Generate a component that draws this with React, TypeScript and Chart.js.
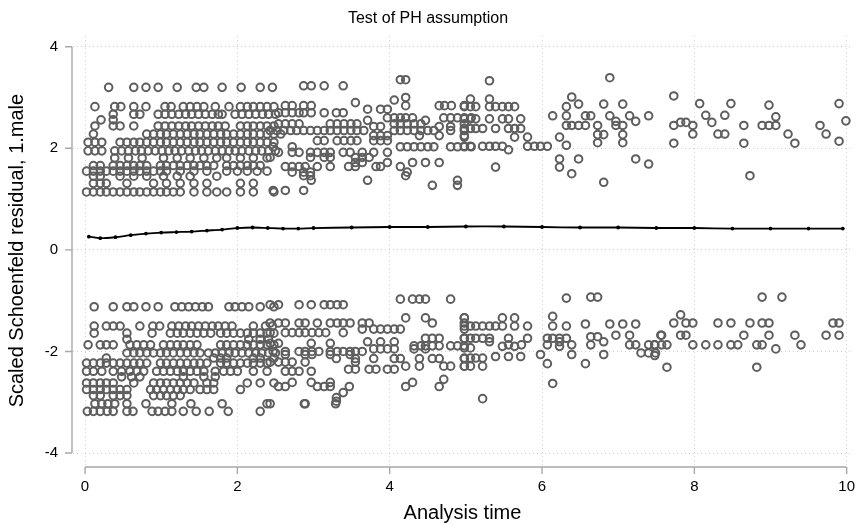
import React, { useEffect, useRef } from "react";
import { Chart, registerables } from "chart.js";

Chart.register(...registerables);

type Row = [number, number[]];

const FONT = "'Liberation Sans', Arial, sans-serif";

const xTicks = [0, 2, 4, 6, 8, 10];
const yTicks = [-4, -2, 0, 2, 4];

// smoothed residual line (running mean)
const smoothX = [0.05, 0.2, 0.4, 0.6, 0.8, 1.0, 1.2, 1.4, 1.6, 1.8, 2.0, 2.2, 2.4, 2.6, 2.8, 3.0, 3.5, 4.0, 4.5, 5.0, 5.5, 6.0, 6.5, 7.0, 7.5, 8.0, 8.5, 9.0, 9.5, 9.95];
const smoothY = [0.26, 0.23, 0.25, 0.29, 0.32, 0.34, 0.35, 0.36, 0.38, 0.4, 0.43, 0.44, 0.43, 0.42, 0.42, 0.43, 0.44, 0.45, 0.45, 0.46, 0.46, 0.45, 0.44, 0.44, 0.43, 0.43, 0.42, 0.42, 0.42, 0.42];

// residual rows: [residual, analysis times]
const upperLeft: Row[] = [
  [3.2, [0.31, 0.64, 0.8, 0.96, 1.21, 1.46, 1.56, 1.8, 2.05, 2.3, 2.46]],
  [2.82, [0.13, 0.39, 0.47, 0.64, 0.8, 1.05, 1.13, 1.29, 1.38, 1.47, 1.56, 1.71, 1.89, 2.04, 2.13, 2.21, 2.3, 2.39, 2.48]],
  [2.67, [0.37, 0.64, 0.72, 0.96, 1.05, 1.14, 1.23, 1.32, 1.4, 1.49, 1.58, 1.67, 1.75, 1.8, 1.97, 2.06, 2.15, 2.24, 2.33, 2.41, 2.5]],
  [2.56, [0.21, 0.37]],
  [2.44, [0.13, 0.37, 0.46, 0.64, 0.96, 1.05, 1.14, 1.23, 1.32, 1.4, 1.49, 1.58, 1.67, 1.75, 1.84, 2.04, 2.13, 2.21, 2.3, 2.39, 2.48]],
  [2.28, [0.11, 0.81, 0.9, 0.99, 1.07, 1.16, 1.25, 1.34, 1.43, 1.51, 1.6, 1.69, 1.78, 1.86, 1.95, 2.04, 2.13, 2.21, 2.3, 2.39, 2.48, 2.57]],
  [2.12, [0.04, 0.13, 0.22, 0.46, 0.55, 0.64, 0.72, 0.81, 0.9, 0.99, 1.07, 1.16, 1.25, 1.34, 1.43, 1.51, 1.6, 1.69, 1.78, 1.86, 1.95, 2.04, 2.13, 2.21, 2.3, 2.39, 2.48]],
  [1.95, [0.04, 0.13, 0.22, 0.39, 0.48, 0.57, 0.66, 0.74, 0.83, 0.92, 1.01, 1.1, 1.18, 1.27, 1.36, 1.45, 1.53, 1.62, 1.71, 1.8, 1.89, 1.97, 2.06, 2.15, 2.24, 2.32, 2.41, 2.5]],
  [1.81, [0.39, 0.57, 0.75, 1.03, 1.21, 1.38, 1.56, 1.73, 1.86, 2.04, 2.21, 2.39]],
  [1.66, [0.11, 0.2, 0.37, 0.46, 0.55, 0.64, 0.72, 0.81, 0.99, 1.07, 1.16, 1.25, 1.34, 1.43, 1.51, 1.6, 1.69, 1.86, 1.95, 2.04, 2.13, 2.21, 2.3]],
  [1.55, [0.02, 0.11, 0.2, 0.28, 0.37, 0.46, 0.55, 0.64, 0.72, 0.81, 0.9, 0.99, 1.07, 1.25, 1.43, 1.6, 1.86, 2.0, 2.13, 2.26, 2.39]],
  [1.45, [0.11, 0.2, 0.46, 0.64, 0.81, 1.03, 1.21, 1.38, 1.73]],
  [1.31, [0.11, 0.2, 0.28, 0.55, 0.9, 1.07, 1.25, 1.43, 1.6, 2.04, 2.21]],
  [1.14, [0.02, 0.11, 0.2, 0.28, 0.37, 0.46, 0.55, 0.64, 0.72, 0.81, 0.9, 0.99, 1.07, 1.16, 1.25, 1.43, 1.6, 1.73, 1.86, 2.04, 2.21, 2.48]],
];

const upperMid: Row[] = [
  [3.35, [4.14, 4.21]],
  [3.23, [2.87, 2.97, 3.14, 3.39]],
  [3.0, [4.21]],
  [2.95, [4.06]],
  [2.9, [3.55]],
  [2.84, [2.63, 2.72, 2.87, 2.97, 4.21, 4.65, 4.72, 4.81, 4.98]],
  [2.77, [3.71, 3.88, 3.97]],
  [2.7, [2.54, 2.63, 2.72, 2.81, 2.87, 2.97, 3.14, 3.3, 3.39]],
  [2.6, [3.97, 4.06, 4.14, 4.21, 4.3, 4.71, 4.8, 4.89, 4.98, 5.07]],
  [2.55, [3.71, 4.47]],
  [2.48, [2.54, 2.63, 2.72, 2.81, 3.22, 3.31, 3.4, 3.49, 3.57, 4.06, 4.14, 4.23, 4.32, 4.41, 4.98]],
  [2.43, [3.79, 3.88, 4.65, 4.8]],
  [2.35, [2.43, 2.52, 2.61, 2.7, 2.78, 2.87, 2.96, 3.05, 3.14, 3.22, 3.31, 3.4, 3.49, 3.57, 3.66, 4.06, 4.14, 4.23, 4.32, 4.41, 4.5, 4.58, 4.8, 4.98]],
  [2.25, [3.79, 3.88, 3.97, 4.39, 4.65, 4.98]],
  [2.15, [3.05, 3.14, 3.31, 3.4, 3.49, 3.57, 3.79, 3.88, 3.97]],
  [2.03, [2.47, 2.72, 4.14, 4.23, 4.32, 4.41, 4.5, 4.58, 4.8, 4.89, 4.98, 5.07]],
  [1.92, [2.54, 2.72, 2.81, 2.96, 3.05, 3.14, 3.22, 3.39, 3.48, 3.64, 3.79, 3.97]],
  [1.82, [2.43, 2.96, 3.14, 3.22, 3.55, 3.64, 3.73]],
  [1.72, [3.55, 3.64, 3.97, 4.3, 4.47, 4.65]],
  [1.64, [2.63, 2.72, 2.81, 2.89, 3.05, 3.22, 3.46, 3.55, 3.82, 3.88, 4.14]],
  [1.53, [2.72, 2.87, 2.96, 4.23]],
  [1.46, [2.87, 2.96, 4.21]],
  [1.37, [2.97, 3.71, 4.89]],
  [1.27, [4.56, 4.89]],
  [1.17, [2.47, 2.63, 2.87]],
];

const upperRight: Row[] = [
  [3.39, [6.89]],
  [3.33, [5.31]],
  [3.01, [6.39]],
  [2.97, [5.06, 5.31]],
  [2.87, [6.48, 6.81, 7.06]],
  [2.82, [4.98, 5.06, 5.13, 5.31, 5.39, 5.48, 5.56, 5.64, 6.32]],
  [2.64, [6.14, 6.32, 6.57, 6.64, 6.89, 7.15, 7.4]],
  [2.58, [4.98, 5.06, 5.13, 5.31, 5.48, 5.56, 5.72]],
  [2.53, [6.97, 7.23]],
  [2.45, [6.32, 6.39, 6.48, 6.57, 6.73, 6.97, 7.06]],
  [2.39, [4.98, 5.06, 5.13, 5.22, 5.39, 5.56, 5.64, 5.72]],
  [2.27, [6.73, 6.81, 7.06]],
  [2.22, [4.98, 5.64, 5.81, 6.23]],
  [2.11, [6.73, 7.06]],
  [2.06, [6.32]],
  [2.04, [4.98, 5.06, 5.22, 5.31, 5.39, 5.48, 5.81, 5.9, 5.98, 6.07]],
  [1.97, [5.56]],
  [1.79, [6.23, 6.48, 7.23]],
  [1.69, [7.4]],
  [1.63, [5.39, 6.23]],
  [1.5, [6.39]],
  [1.33, [6.81]],
];

const upperFar: Row[] = [
  [3.03, [7.73]],
  [2.88, [8.07, 8.48, 9.9]],
  [2.85, [8.98]],
  [2.65, [8.15, 8.4]],
  [2.62, [9.07]],
  [2.54, [9.99]],
  [2.51, [7.82, 7.89, 8.23]],
  [2.45, [7.73, 7.98, 8.65, 8.89, 8.98, 9.07, 9.65]],
  [2.28, [7.98, 8.31, 8.4, 9.23, 9.73]],
  [2.14, [9.9]],
  [2.1, [7.73, 8.65, 9.32]],
  [1.46, [8.73]],
];

const lowerLeft: Row[] = [
  [-1.12, [0.12, 0.37, 0.55, 0.64, 0.8, 0.96, 1.18, 1.27, 1.36, 1.45, 1.54, 1.62, 1.89, 1.97, 2.06, 2.15, 2.3, 2.48]],
  [-1.5, [0.12, 0.28, 0.37, 0.46, 0.72, 0.89, 0.98, 1.14, 1.23, 1.32, 1.4, 1.49, 1.58, 1.67, 1.75, 1.84, 1.93, 2.21, 2.37, 2.46]],
  [-1.64, [0.12, 0.55, 0.88, 1.12, 1.21, 1.29, 1.38, 1.47, 1.56, 1.65, 1.78, 1.86, 1.95, 2.04, 2.13, 2.21, 2.3, 2.39, 2.48]],
  [-1.76, [0.55, 2.15, 2.3, 2.41]],
  [-1.87, [0.04, 0.2, 0.28, 0.37, 0.59, 0.68, 0.77, 0.86, 1.03, 1.12, 1.21, 1.29, 1.38, 1.47, 1.78, 1.86, 1.95, 2.04, 2.13, 2.21, 2.3, 2.39, 2.48]],
  [-2.03, [0.55, 0.64, 0.72, 0.81, 0.9, 0.99, 1.07, 1.16, 1.25, 1.34, 1.43, 1.51, 1.62, 1.71, 1.8, 1.89, 1.97, 2.06, 2.15, 2.24, 2.32, 2.41, 2.5]],
  [-2.13, [0.28, 1.69, 1.78, 1.86, 2.21, 2.3, 2.48]],
  [-2.23, [0.02, 0.11, 0.2, 0.28, 0.37, 0.46, 0.55, 0.64, 0.72, 0.81, 0.99, 1.07, 1.16, 1.25, 1.34, 1.43, 1.51, 1.6, 1.78, 1.86, 1.95, 2.04, 2.13, 2.21, 2.3, 2.39]],
  [-2.39, [0.02, 0.11, 0.22, 0.37, 0.48, 0.59, 0.68, 0.77, 0.94, 1.03, 1.12, 1.21, 1.29, 1.38, 1.47, 1.56, 1.71, 1.82, 1.91, 2.0, 2.21, 2.39]],
  [-2.5, [0.48, 0.61, 0.72, 1.29, 1.56, 1.71]],
  [-2.62, [0.02, 0.11, 0.2, 0.28, 0.37, 0.64, 0.9, 0.99, 1.07, 1.16, 1.25, 1.34, 1.43, 1.6, 1.69, 2.13, 2.3, 2.48]],
  [-2.75, [0.02, 0.11, 0.2, 0.28, 0.37, 0.46, 0.55, 0.86, 0.94, 1.03, 1.12, 1.21, 1.29, 1.38, 1.51, 1.6, 1.69, 2.04]],
  [-2.87, [0.11, 0.2, 0.37, 0.46, 0.55, 0.9, 0.99, 1.07, 1.16, 1.25]],
  [-3.03, [0.13, 0.22, 0.3, 0.39, 0.55, 0.8, 1.14, 1.39, 1.8, 2.39, 2.88, 3.29]],
  [-3.18, [0.03, 0.11, 0.2, 0.29, 0.37, 0.55, 0.63, 0.88, 0.96, 1.05, 1.14, 1.29, 1.46, 1.63, 1.88, 2.3]],
];

const lowerMid: Row[] = [
  [-0.97, [4.14, 4.3, 4.39, 4.47, 4.8]],
  [-1.08, [2.43, 2.54, 2.81, 2.97, 3.14, 3.22, 3.31, 3.39]],
  [-1.34, [4.21, 4.47, 4.98]],
  [-1.44, [2.43, 2.54, 2.63, 2.81, 2.89, 3.05, 3.22, 3.31, 3.39, 3.48, 3.64, 3.73, 4.56, 4.98]],
  [-1.56, [3.64, 3.79, 3.88, 3.97, 4.06, 4.14, 4.98]],
  [-1.63, [2.43, 2.63, 2.72, 2.81, 2.89, 2.98, 3.07, 3.16, 3.39]],
  [-1.74, [4.47, 4.56, 4.65, 4.98]],
  [-1.81, [3.71, 3.88, 4.06]],
  [-1.84, [2.43, 2.54, 2.97, 3.22]],
  [-1.89, [4.32, 4.41, 4.47, 4.56, 4.65, 4.8, 4.89, 4.98]],
  [-1.95, [3.79, 3.88, 3.97, 4.06, 4.32, 4.47]],
  [-2.0, [2.47, 2.63, 2.81, 2.89, 2.98, 3.07, 3.22, 3.31, 3.39, 3.48, 3.55, 3.64]],
  [-2.06, [2.63, 2.89, 2.98, 3.22, 3.48]],
  [-2.14, [3.3, 3.55, 3.79, 4.06, 4.14, 4.39, 4.56, 4.65, 4.98]],
  [-2.21, [2.43, 2.54, 2.63, 2.72, 2.89, 3.55]],
  [-2.29, [4.21, 4.39, 4.71, 4.8, 4.98]],
  [-2.35, [3.46, 3.55, 3.73, 3.82, 3.97, 4.06]],
  [-2.39, [2.63, 2.72, 2.81, 2.97]],
  [-2.55, [4.71]],
  [-2.61, [2.72, 2.97, 3.22, 4.3]],
  [-2.69, [2.54, 2.63, 3.05, 3.14, 3.22, 3.47, 4.21, 4.65]],
  [-2.81, [3.39]],
  [-2.91, [3.3]],
  [-2.98, [3.3]],
  [-3.03, [2.43, 2.89]],
];

const lowerRight: Row[] = [
  [-0.93, [6.64, 6.73]],
  [-0.95, [6.32]],
  [-1.31, [6.14]],
  [-1.34, [4.98, 5.48, 5.64]],
  [-1.46, [6.57, 6.89, 7.06, 7.23]],
  [-1.5, [4.98, 5.06, 5.13, 5.22, 5.31, 5.39, 5.48, 5.64, 5.81, 6.14, 6.32]],
  [-1.68, [6.97, 7.15, 7.56]],
  [-1.71, [6.64, 6.73]],
  [-1.74, [4.98, 5.06, 5.13, 5.22, 5.31, 5.56, 5.81, 6.07, 6.14, 6.23, 6.32]],
  [-1.81, [5.31, 6.23, 6.81]],
  [-1.87, [5.56, 5.73, 6.07, 6.39, 6.64, 7.15, 7.23, 7.4, 7.48]],
  [-1.9, [5.48, 5.64, 6.23]],
  [-1.93, [4.98, 5.06]],
  [-2.03, [7.3, 7.4, 7.49]],
  [-2.06, [5.98, 6.39, 6.81]],
  [-2.1, [5.39, 5.56, 5.72]],
  [-2.13, [4.98, 5.06, 5.13, 5.22]],
  [-2.24, [6.07, 6.57]],
  [-2.29, [4.98, 5.06, 5.22]],
  [-2.63, [6.14]],
  [-2.93, [5.22]],
];

const lowerFar: Row[] = [
  [-0.93, [8.89, 9.15]],
  [-1.28, [7.82]],
  [-1.44, [7.73, 7.89, 7.98, 8.31, 8.48, 8.73, 8.89, 8.98, 9.82, 9.9]],
  [-1.68, [7.57, 7.82, 7.89, 8.65, 8.98, 9.32, 9.73, 9.9]],
  [-1.87, [7.48, 7.57, 7.64, 7.98, 8.15, 8.31, 8.48, 8.57, 8.82, 8.89, 9.4]],
  [-1.95, [9.07]],
  [-2.08, [7.48]],
  [-2.31, [7.64, 8.82]],
];

const toPoints = (rows: Row[]) =>
  rows.flatMap(([y, xs]) => xs.map((x) => ({ x, y })));

// Stata-style offset axes: lines only span the tick range
const axisLines = {
  id: "axisLines",
  afterDraw(chart: Chart) {
    const { ctx, chartArea } = chart;
    const xs = chart.scales.x;
    const ys = chart.scales.y;
    ctx.save();
    ctx.strokeStyle = "#a8a8a8";
    ctx.lineWidth = 1.4;
    ctx.beginPath();
    const ax = chartArea.left - 1;
    ctx.moveTo(ax, ys.getPixelForValue(yTicks[0]));
    ctx.lineTo(ax, ys.getPixelForValue(yTicks[yTicks.length - 1]));
    yTicks.forEach((v) => {
      const p = ys.getPixelForValue(v);
      ctx.moveTo(ax, p);
      ctx.lineTo(ax - 7, p);
    });
    const ay = chartArea.bottom + 2;
    ctx.moveTo(xs.getPixelForValue(xTicks[0]), ay);
    ctx.lineTo(xs.getPixelForValue(xTicks[xTicks.length - 1]), ay);
    xTicks.forEach((v) => {
      const p = xs.getPixelForValue(v);
      ctx.moveTo(p, ay);
      ctx.lineTo(p, ay + 7);
    });
    ctx.stroke();
    ctx.restore();
  },
};

const App = () => {
  const canvasRef = useRef<HTMLCanvasElement>(null);
  const chartRef = useRef<Chart | null>(null);

  useEffect(() => {
    const canvas = canvasRef.current;
    if (!canvas) return;
    if (chartRef.current) chartRef.current.destroy();

    const residuals = [
      ...toPoints(upperLeft),
      ...toPoints(upperMid),
      ...toPoints(upperRight),
      ...toPoints(upperFar),
      ...toPoints(lowerLeft),
      ...toPoints(lowerMid),
      ...toPoints(lowerRight),
      ...toPoints(lowerFar),
    ];
    const smooth = smoothX.map((x, i) => ({ x, y: smoothY[i] }));

    chartRef.current = new Chart(canvas, {
      type: "scatter",
      data: {
        datasets: [
          {
            label: "residuals",
            data: residuals,
            pointStyle: "circle",
            pointRadius: 3.8,
            pointBorderWidth: 2,
            borderColor: "#5e5e5e",
            backgroundColor: "rgba(0,0,0,0)",
          },
          {
            type: "line",
            label: "smooth",
            data: smooth,
            borderColor: "#000",
            backgroundColor: "#000",
            borderWidth: 1.8,
            pointRadius: 1,
            tension: 0.3,
          },
        ],
      },
      options: {
        responsive: true,
        maintainAspectRatio: false,
        animation: false,
        layout: { padding: { left: 0, right: 2, top: 0, bottom: 0 } },
        plugins: {
          legend: { display: false },
          tooltip: { enabled: false },
          title: {
            display: true,
            text: "Test of PH assumption",
            color: "#000",
            font: { family: FONT, size: 16, weight: "normal" },
            padding: { top: 9, bottom: 8 },
          },
        },
        scales: {
          x: {
            type: "linear",
            min: -0.158,
            max: 10.07,
            afterBuildTicks: (s: any) => {
              s.ticks = xTicks.map((v) => ({ value: v }));
            },
            afterFit: (s: any) => {
              s.height = 60;
              s.paddingLeft = 0;
              s.paddingRight = 0;
            },
            grid: { color: "#cfcfcf", lineWidth: 1, drawTicks: false },
            border: { display: false, dash: [1, 3] },
            ticks: {
              color: "#000",
              font: { family: FONT, size: 15 },
              padding: 13,
              maxRotation: 0,
              autoSkip: false,
            },
            title: {
              display: true,
              text: "Analysis time",
              color: "#000",
              font: { family: FONT, size: 20 },
              padding: { top: 0, bottom: 0 },
            },
          },
          y: {
            type: "linear",
            min: -4.236,
            max: 4.207,
            afterBuildTicks: (s: any) => {
              s.ticks = yTicks.map((v) => ({ value: v }));
            },
            afterFit: (s: any) => {
              s.width = 73;
              s.paddingTop = 0;
              s.paddingBottom = 0;
            },
            grid: { color: "#cfcfcf", lineWidth: 1, drawTicks: false },
            border: { display: false, dash: [1, 3] },
            ticks: {
              color: "#000",
              font: { family: FONT, size: 15 },
              padding: 15,
              autoSkip: false,
            },
            title: {
              display: true,
              text: "Scaled Schoenfeld residual, 1.male",
              color: "#000",
              font: { family: FONT, size: 20 },
              padding: { top: 5, bottom: 0 },
            },
          },
        },
      },
      plugins: [axisLines],
    });

    return () => {
      chartRef.current?.destroy();
      chartRef.current = null;
    };
  }, []);

  return (
    <div
      style={{
        position: "fixed",
        left: 0,
        top: 0,
        width: 858,
        height: 525,
        background: "#fff",
      }}
    >
      <canvas ref={canvasRef} />
    </div>
  );
};

export default App;
